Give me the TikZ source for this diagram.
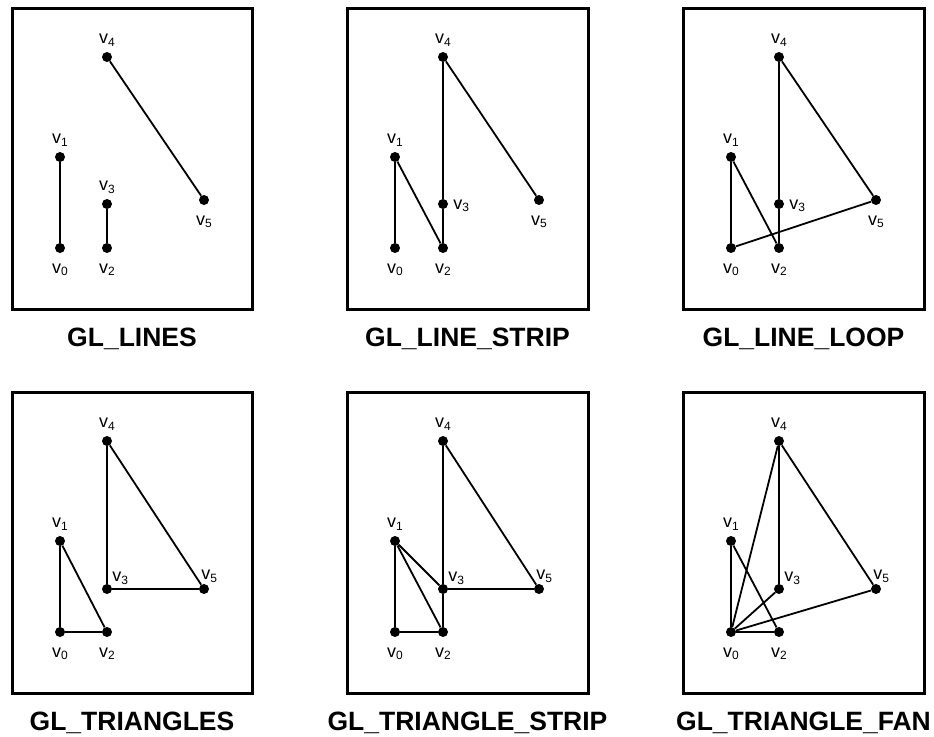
\documentclass[tikz,border=0pt]{standalone}
\usepackage{fontspec}
\setmainfont{Liberation Sans}
\usetikzlibrary{positioning}
\newcommand{\vx}[1]{v\raisebox{-2.5pt}{\fontsize{12}{12}\selectfont #1}}

\begin{document}
\begin{tikzpicture}[x=1pt, y=-1pt,
  vertex/.style={circle, fill, inner sep=0pt, minimum size=10pt},
  vname/.style={inner sep=0pt, text height=9pt, text depth=2pt, font=\fontsize{18}{18}\selectfont},
  frame/.style={line width=3pt},
  title/.style={anchor=base, font=\fontsize{26.5}{27}\selectfont\bfseries},
  edge/.style={line width=1.8pt}]

  \useasboundingbox (0,0) rectangle (934,736);

  % GL_LINES
  \begin{scope}[shift={(12,8)}]
  \draw[frame] (0,0) rectangle (240,301);
  \node (a0) [vertex] at (48,240) {};
  \node (a1) [vertex] at (48,149) {};
  \node (a2) [vertex] at (95,240) {};
  \node (a3) [vertex] at (95,196) {};
  \node (a4) [vertex] at (95,49) {};
  \node (a5) [vertex] at (192,192) {};
  \node [vname, below=11pt of a0] {\vx0};
  \node [vname, above=6pt of a1] {\vx1};
  \node [vname, below=11pt of a2] {\vx2};
  \node [vname, above=6pt of a3] {\vx3};
  \node [vname, above=6pt of a4] {\vx4};
  \node [vname, below=11pt of a5] {\vx5};
  \draw [edge] (a0) -- (a1);
  \draw [edge] (a2) -- (a3);
  \draw [edge] (a4) -- (a5);
  \node [title] at (120,338.7) {GL\_LINES};
  \end{scope}

  % GL_LINE_STRIP
  \begin{scope}[shift={(347,8)}]
  \draw[frame] (0,0) rectangle (241,301);
  \node (b0) [vertex] at (48,240) {};
  \node (b1) [vertex] at (48,149) {};
  \node (b2) [vertex] at (96,240) {};
  \node (b3) [vertex] at (96,196) {};
  \node (b4) [vertex] at (96,49) {};
  \node (b5) [vertex] at (192,192) {};
  \node [vname, below=11pt of b0] {\vx0};
  \node [vname, above=6pt of b1] {\vx1};
  \node [vname, below=11pt of b2] {\vx2};
  \node [vname, right=5pt of b3, yshift=-1.5pt] {\vx3};
  \node [vname, above=6pt of b4] {\vx4};
  \node [vname, below=11pt of b5] {\vx5};
  \draw [edge] (b0) -- (b1);
  \draw [edge] (b1) -- (b2);
  \draw [edge] (b2) -- (b3);
  \draw [edge] (b3) -- (b4);
  \draw [edge] (b4) -- (b5);
  \node [title] at (120.5,338.7) {GL\_LINE\_STRIP};
  \end{scope}

  % GL_LINE_LOOP
  \begin{scope}[shift={(683,8)}]
  \draw[frame] (0,0) rectangle (241,301);
  \node (c0) [vertex] at (48,240) {};
  \node (c1) [vertex] at (48,149) {};
  \node (c2) [vertex] at (96,240) {};
  \node (c3) [vertex] at (96,196) {};
  \node (c4) [vertex] at (96,49) {};
  \node (c5) [vertex] at (193,192) {};
  \node [vname, below=11pt of c0] {\vx0};
  \node [vname, above=6pt of c1] {\vx1};
  \node [vname, below=11pt of c2] {\vx2};
  \node [vname, right=5pt of c3, yshift=-1.5pt] {\vx3};
  \node [vname, above=6pt of c4] {\vx4};
  \node [vname, below=11pt of c5] {\vx5};
  \draw [edge] (c0) -- (c1);
  \draw [edge] (c1) -- (c2);
  \draw [edge] (c2) -- (c3);
  \draw [edge] (c3) -- (c4);
  \draw [edge] (c4) -- (c5);
  \draw [edge] (c5) -- (c0);
  \node [title] at (120.5,338.7) {GL\_LINE\_LOOP};
  \end{scope}

  % GL_TRIANGLES
  \begin{scope}[shift={(12,392)}]
  \draw[frame] (0,0) rectangle (240,301);
  \node (d0) [vertex] at (48,240) {};
  \node (d1) [vertex] at (48,149) {};
  \node (d2) [vertex] at (95,240) {};
  \node (d3) [vertex] at (95,197) {};
  \node (d4) [vertex] at (95,49) {};
  \node (d5) [vertex] at (192,197) {};
  \node [vname, below=11pt of d0] {\vx0};
  \node [vname, above=6pt of d1] {\vx1};
  \node [vname, below=11pt of d2] {\vx2};
  \node [vname, above right=1.5pt and 1.5pt of d3] {\vx3};
  \node [vname, above right=3.5pt and -6.5pt of d5] {\vx5};
  \node [vname, above=6pt of d4] {\vx4};
  \draw [edge] (d0) -- (d1);
  \draw [edge] (d1) -- (d2);
  \draw [edge] (d2) -- (d0);
  \draw [edge] (d3) -- (d4);
  \draw [edge] (d4) -- (d5);
  \draw [edge] (d5) -- (d3);
  \node [title] at (120,338.5) {GL\_TRIANGLES};
  \end{scope}

  % GL_TRIANGLE_STRIP
  \begin{scope}[shift={(347,392)}]
  \draw[frame] (0,0) rectangle (241,301);
  \node (e0) [vertex] at (48,240) {};
  \node (e1) [vertex] at (48,149) {};
  \node (e2) [vertex] at (96,240) {};
  \node (e3) [vertex] at (96,197) {};
  \node (e4) [vertex] at (96,49) {};
  \node (e5) [vertex] at (192,197) {};
  \node [vname, below=11pt of e0] {\vx0};
  \node [vname, above=6pt of e1] {\vx1};
  \node [vname, below=11pt of e2] {\vx2};
  \node [vname, above right=1.5pt and 1.5pt of e3] {\vx3};
  \node [vname, above=6pt of e4] {\vx4};
  \node [vname, above right=3.5pt and -6.5pt of e5] {\vx5};
  \draw [edge] (e0) -- (e1);
  \draw [edge] (e0) -- (e2);
  \draw [edge] (e1) -- (e2);
  \draw [edge] (e1) -- (e3);
  \draw [edge] (e2) -- (e3);
  \draw [edge] (e3) -- (e4);
  \draw [edge] (e3) -- (e5);
  \draw [edge] (e4) -- (e5);
  \node [title] at (120.5,338.5) {GL\_TRIANGLE\_STRIP};
  \end{scope}

  % GL_TRIANGLE_FAN
  \begin{scope}[shift={(683,392)}]
  \draw[frame] (0,0) rectangle (241,301);
  \node (f0) [vertex] at (48,240) {};
  \node (f1) [vertex] at (48,149) {};
  \node (f2) [vertex] at (96,240) {};
  \node (f3) [vertex] at (96,197) {};
  \node (f4) [vertex] at (96,49) {};
  \node (f5) [vertex] at (193,197) {};
  \node [vname, below=11pt of f0] {\vx0};
  \node [vname, above=6pt of f1] {\vx1};
  \node [vname, below=11pt of f2] {\vx2};
  \node [vname, above right=1.5pt and 1.5pt of f3] {\vx3};
  \node [vname, above=6pt of f4] {\vx4};
  \node [vname, above right=3.5pt and -6.5pt of f5] {\vx5};
  \draw [edge] (f0) -- (f1);
  \draw [edge] (f1) -- (f2);
  \draw [edge] (f0) -- (f2);
  \draw [edge] (f0) -- (f3);
  \draw [edge] (f3) -- (f4);
  \draw [edge] (f0) -- (f4);
  \draw [edge] (f0) -- (f5);
  \draw [edge] (f4) -- (f5);
  \node [title] at (120.5,338.5) {GL\_TRIANGLE\_FAN};
  \end{scope}
\end{tikzpicture}
\end{document}
